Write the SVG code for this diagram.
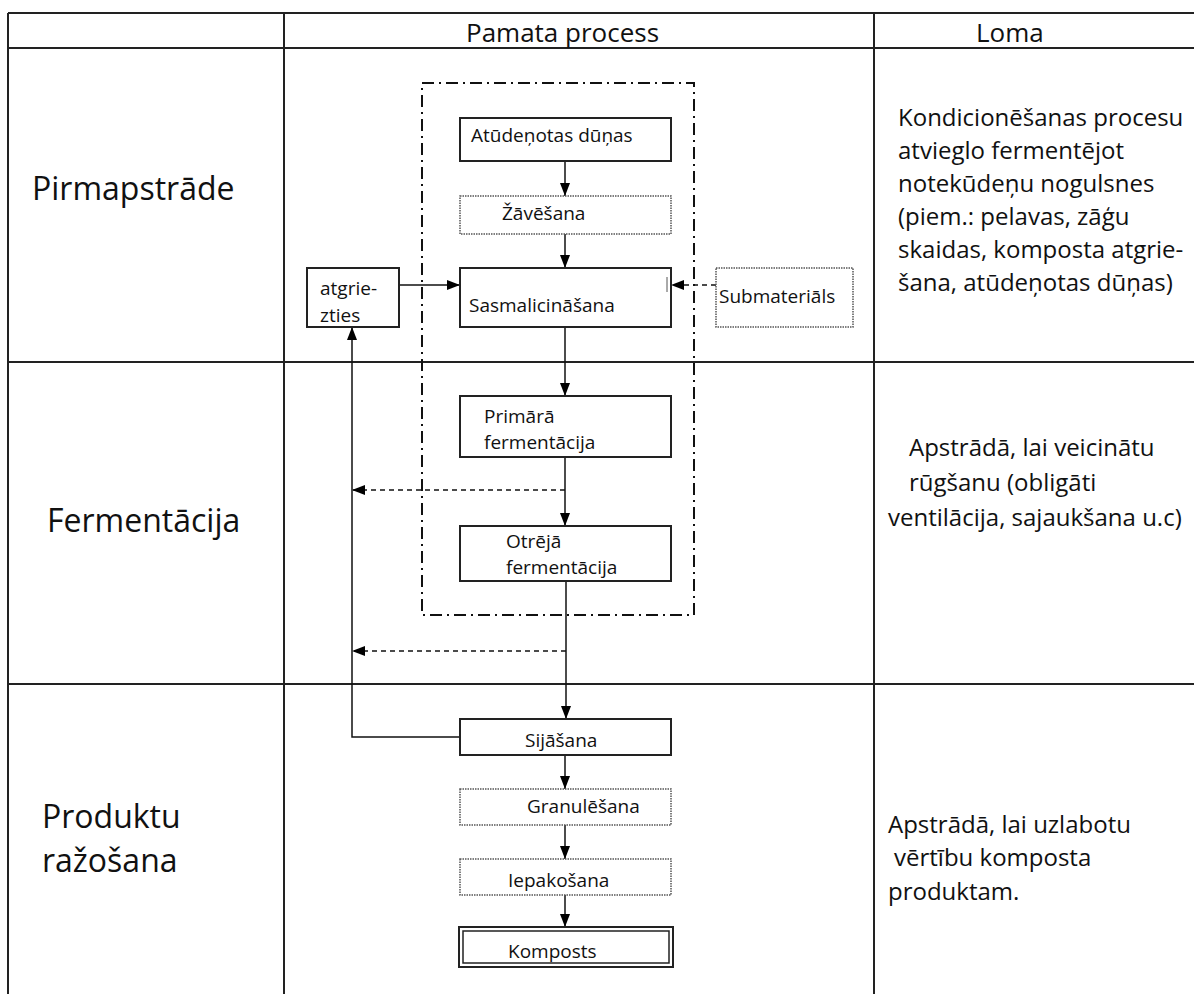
<svg xmlns="http://www.w3.org/2000/svg" width="1194" height="994" viewBox="0 0 1194 994">
<defs>
<marker id="ah" viewBox="0 0 13 10" refX="13" refY="5" markerWidth="13" markerHeight="10" markerUnits="userSpaceOnUse" orient="auto">
<path d="M0,0 L13,5 L0,10 z" fill="#000"/>
</marker>
<style>
text{font-family:"Open Sans","Noto Sans","DejaVu Sans",sans-serif;fill:#111}
.grid{stroke:#222;stroke-width:2;fill:none}
.box{fill:#fff;stroke:#222;stroke-width:2}
.dot{fill:#fff;stroke:#555;stroke-width:1.5;stroke-dasharray:1.5 1}
.dd{fill:none;stroke:#111;stroke-width:2;stroke-dasharray:12 5 2 5}
.c{stroke:#111;stroke-width:1.5;fill:none}
.cd{stroke:#111;stroke-width:1.5;fill:none;stroke-dasharray:5 4}
.hd{font-size:26px}
.lb{font-size:32px}
.bt{font-size:19px}
.rt{font-size:24px}
</style>
</defs>
<rect width="1194" height="994" fill="#fff"/>
<g id="table">
<line class="grid" x1="8" y1="13" x2="1194" y2="13"/>
<line class="grid" x1="8" y1="48" x2="1194" y2="48"/>
<line class="grid" x1="8" y1="362" x2="1194" y2="362"/>
<line class="grid" x1="8" y1="684" x2="1194" y2="684"/>
<line class="grid" x1="8" y1="13" x2="8" y2="994"/>
<line class="grid" x1="284" y1="13" x2="284" y2="994"/>
<line class="grid" x1="874" y1="13" x2="874" y2="994"/>
<text class="hd" x="466" y="42">Pamata process</text>
<text class="hd" x="976" y="42">Loma</text>
<text class="lb" x="32" y="200">Pirmapstrāde</text>
<text class="lb" x="47" y="532">Fermentācija</text>
<text class="lb" x="42" y="828">Produktu</text>
<text class="lb" x="42" y="872">ražošana</text>
</g>
<g id="roles">
<text class="rt" x="898" y="126">Kondicionēšanas procesu</text>
<text class="rt" x="898" y="159">atvieglo fermentējot</text>
<text class="rt" x="898" y="192">notekūdeņu nogulsnes</text>
<text class="rt" x="898" y="225">(piem.: pelavas, zāģu</text>
<text class="rt" x="898" y="258">skaidas, komposta atgrie-</text>
<text class="rt" x="898" y="291">šana, atūdeņotas dūņas)</text>
<text class="rt" x="909" y="456">Apstrādā, lai veicinātu</text>
<text class="rt" x="909" y="491">rūgšanu (obligāti</text>
<text class="rt" x="888" y="526">ventilācija, sajaukšana u.c)</text>
<text class="rt" x="888" y="833">Apstrādā, lai uzlabotu</text>
<text class="rt" x="894" y="866">vērtību komposta</text>
<text class="rt" x="888" y="900">produktam.</text>
</g>
<g id="boundary">
<rect class="dd" x="422" y="83" width="272" height="532"/>
</g>
<g id="connectors">
<line class="c" x1="565" y1="161" x2="565" y2="196" marker-end="url(#ah)"/>
<line class="c" x1="565" y1="234" x2="565" y2="268" marker-end="url(#ah)"/>
<line class="c" x1="399" y1="285" x2="460" y2="285" marker-end="url(#ah)"/>
<line class="cd" x1="716" y1="285" x2="671" y2="285" marker-end="url(#ah)"/>
<line class="c" x1="565" y1="327" x2="565" y2="396" marker-end="url(#ah)"/>
<line class="c" x1="565" y1="457" x2="565" y2="526" marker-end="url(#ah)"/>
<line class="cd" x1="565" y1="490" x2="352" y2="490" marker-end="url(#ah)"/>
<line class="c" x1="566" y1="581" x2="566" y2="719" marker-end="url(#ah)"/>
<line class="cd" x1="566" y1="651" x2="352" y2="651" marker-end="url(#ah)"/>
<polyline class="c" points="460,737 352,737 352,327" marker-end="url(#ah)"/>
<line class="c" x1="565" y1="755" x2="565" y2="789" marker-end="url(#ah)"/>
<line class="c" x1="565" y1="825" x2="565" y2="859" marker-end="url(#ah)"/>
<line class="c" x1="565" y1="895" x2="565" y2="927" marker-end="url(#ah)"/>
</g>
<g id="n-atudenotas">
<rect class="box" x="460" y="118" width="211" height="43"/>
<text class="bt" x="471" y="142">Atūdeņotas dūņas</text>
</g>
<g id="n-zavesana">
<rect class="dot" x="460" y="196" width="211" height="38"/>
<text class="bt" x="502" y="220">Žāvēšana</text>
</g>
<g id="n-sasmalcinasana">
<rect class="box" x="460" y="268" width="211" height="59"/>
<line x1="667" y1="277" x2="667" y2="292" stroke="#555" stroke-width="1"/>
<text class="bt" x="469" y="312">Sasmalicināšana</text>
</g>
<g id="n-atgriezties">
<rect class="box" x="307" y="268" width="92" height="59"/>
<text class="bt" x="320" y="295">atgrie-</text>
<text class="bt" x="320" y="322">zties</text>
</g>
<g id="n-submaterials">
<rect class="dot" x="716" y="268" width="137" height="59"/>
<text class="bt" x="719" y="303">Submateriāls</text>
</g>
<g id="n-primara">
<rect class="box" x="460" y="396" width="211" height="61"/>
<text class="bt" x="484" y="423">Primārā</text>
<text class="bt" x="484" y="449">fermentācija</text>
</g>
<g id="n-otreja">
<rect class="box" x="460" y="526" width="211" height="55"/>
<text class="bt" x="506" y="548">Otrējā</text>
<text class="bt" x="506" y="574">fermentācija</text>
</g>
<g id="n-sijasana">
<rect class="box" x="460" y="719" width="211" height="36"/>
<text class="bt" x="525" y="747">Sijāšana</text>
</g>
<g id="n-granulesana">
<rect class="dot" x="460" y="789" width="211" height="36"/>
<text class="bt" x="527" y="813">Granulēšana</text>
</g>
<g id="n-iepakosana">
<rect class="dot" x="460" y="859" width="211" height="36"/>
<text class="bt" x="508" y="887">Iepakošana</text>
</g>
<g id="n-komposts">
<rect class="box" x="459" y="927" width="214" height="40"/>
<rect x="463" y="931" width="206" height="32" fill="none" stroke="#222" stroke-width="1.5"/>
<text class="bt" x="508" y="958">Komposts</text>
</g>
</svg>
